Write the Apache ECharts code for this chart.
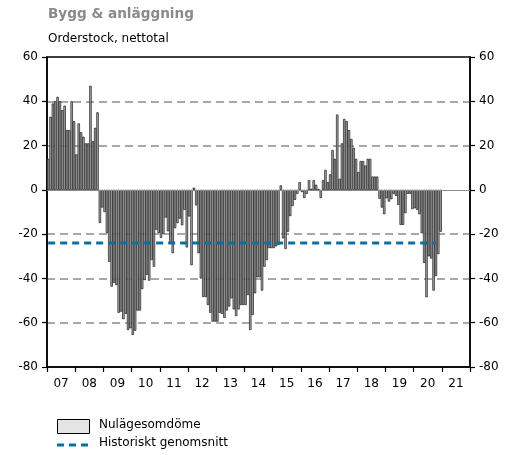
<!DOCTYPE html>
<html>
<head>
<meta charset="utf-8">
<script src="https://cdn.jsdelivr.net/npm/echarts@6/dist/echarts.min.js"></script>
<style>
html,body{margin:0;padding:0;background:#fff;}
#chart{width:522px;height:455px;}
</style>
</head>
<body>
<div id="chart"></div>
<script>
// Year labels on the x axis
const yearLabels = ['07','08','09','10','11','12','13','14','15','16','17','18','19','20','21'];
const monthNames = ['01','02','03','04','05','06','07','08','09','10','11','12'];
// Orderstock, nettotal (Nulägesomdöme), monthly values per year
const v2007 = [14, 33, 39, 40, 42, 40, 36, 38, 27, 27, 40, 31];
const v2008 = [16, 30, 26, 24, 21, 21, 47, 22, 28, 35, -15, -8];
const v2009 = [-10, -19.5, -32.5, -43.7, -42, -43, -55.5, -55, -58.4, -56, -63.3, -62.5];
const v2010 = [-65.5, -63.6, -54.5, -54.5, -44.8, -40.7, -38.4, -41, -31.7, -34.7, -18, -19.5];
const v2011 = [-21.7, -20, -12.5, -18.7, -24, -28.6, -17.3, -15, -13, -16, -9, -26];
const v2012 = [-12, -34, 1, -7, -28.6, -40, -48.4, -48.4, -52, -55.5, -59.5, -59.5];
const v2013 = [-59.5, -55.5, -56, -57.8, -54.5, -52.7, -49, -54, -57, -54, -52, -52];
const v2014 = [-52, -47.5, -63.3, -56.5, -46.7, -39.5, -39.5, -45.5, -34.7, -31.7, -26.3, -26.3];
const v2015 = [-26.3, -25.5, -24.8, 2, -21.9, -26.7, -18.9, -11.8, -7.3, -4.5, -1.8, 3.5];
const v2016 = [-1, -3.7, -1.8, 4.4, 0.5, 4.4, 2.3, 0.4, -3.7, 4.4, 9, 3.5];
const v2017 = [7, 18, 14, 34, 5, 21, 32, 31, 27, 23, 19, 14];
const v2018 = [8, 13, 13, 11, 14, 14, 6, 6, 6, -4, -8, -11];
const v2019 = [-3.8, -5.3, -4.2, -1.8, -2.7, -6.8, -15.8, -15.8, -10.5, -1.8, -1.8, -8.7];
const v2020 = [-8.3, -9, -11, -19.6, -33, -48.5, -30, -31, -45.5, -38.9, -29, -18.9];
const v2021 = [];
// Historiskt genomsnitt
const historicAverage = -24;
const averageMonths = 166; // months covered by the average line
// Y axis ticks
const yMin = -80, yMax = 60, yStep = 20;

const yearly = [v2007,v2008,v2009,v2010,v2011,v2012,v2013,v2014,v2015,v2016,v2017,v2018,v2019,v2020,v2021];
const categories = [];
const barData = [];
yearLabels.forEach((y, yi) => {
  monthNames.forEach((m, mi) => {
    categories.push('20' + y + '-' + m);
    const v = yearly[yi][mi];
    barData.push(v === undefined ? null : v);
  });
});
const avgData = categories.map((c, i) => i < averageMonths ? historicAverage : null);

const FONT = 'DejaVu Sans, Verdana, sans-serif';
const chart = echarts.init(document.getElementById('chart'), null, {renderer: 'canvas'});
const gridColors = ['rgba(0,0,0,0)', '#8c8c8c', '#8c8c8c', '#8c8c8c', 'rgba(0,0,0,0)', '#8c8c8c', '#8c8c8c', 'rgba(0,0,0,0)'];

chart.setOption({
  animation: false,
  backgroundColor: '#fff',
  grid: {left: 47, right: 52, top: 57, bottom: 88, show: true, borderColor: '#000', borderWidth: 1.5, backgroundColor: 'transparent'},
  xAxis: [{
    type: 'category', data: categories, boundaryGap: true,
    axisLine: {show: true, onZero: false, lineStyle: {color: '#000', width: 1.5}},
    axisTick: {show: true, interval: 11, length: 5, lineStyle: {color: '#000', width: 1.2}},
    axisLabel: {show: false}, splitLine: {show: false}
  }, {
    type: 'category', data: yearLabels, position: 'bottom', boundaryGap: true,
    axisLine: {show: false, onZero: false}, axisTick: {show: false}, splitLine: {show: false},
    axisLabel: {show: true, interval: 0, margin: 11, color: '#000', fontSize: 12, fontFamily: FONT}
  }],
  yAxis: [{
    type: 'value', min: yMin, max: yMax, interval: yStep, position: 'left',
    axisLine: {show: true, lineStyle: {color: '#000', width: 1.5}},
    axisTick: {show: true, length: 5, lineStyle: {color: '#000', width: 1.2}},
    axisLabel: {color: '#000', fontSize: 12, fontFamily: FONT, margin: 9},
    splitLine: {show: true, lineStyle: {color: gridColors, type: [8, 5], width: 1.5}}
  }, {
    type: 'value', min: yMin, max: yMax, interval: yStep, position: 'right',
    axisLine: {show: true, lineStyle: {color: '#000', width: 1.5}},
    axisTick: {show: true, length: 5, lineStyle: {color: '#000', width: 1.2}},
    axisLabel: {color: '#000', fontSize: 12, fontFamily: FONT, margin: 9},
    splitLine: {show: false}
  }],
  series: [{
    name: 'Nulägesomdöme', type: 'bar', data: barData, xAxisIndex: 0, yAxisIndex: 0,
    barCategoryGap: '0%', barGap: '0%',
    itemStyle: {color: '#a8a8a8', borderColor: '#000', borderWidth: 0.6},
    markLine: {silent: true, symbol: 'none', label: {show: false},
      lineStyle: {color: '#8c8c8c', type: 'solid', width: 1.2},
      data: [{yAxis: 0}]},
    z: 2
  }, {
    name: 'Historiskt genomsnitt', type: 'line', data: avgData, xAxisIndex: 0, yAxisIndex: 0,
    symbol: 'none', connectNulls: false,
    lineStyle: {color: '#0b6ea8', width: 3, type: [7, 5]},
    z: 3
  }],
  graphic: [
    {type: 'text', left: 48, top: 7, style: {text: 'Bygg & anläggning', fill: '#8a8a8a', font: 'bold 13.6px ' + FONT}},
    {type: 'text', left: 48, top: 33, style: {text: 'Orderstock, nettotal', fill: '#000', font: '12px ' + FONT}},
    {type: 'rect', shape: {x: 57.5, y: 419.5, width: 32, height: 14}, style: {fill: '#e4e4e4', stroke: '#000', lineWidth: 1}},
    {type: 'text', left: 99, top: 419, style: {text: 'Nulägesomdöme', fill: '#000', font: '12px ' + FONT}},
    {type: 'line', shape: {x1: 57, y1: 445, x2: 90, y2: 445}, style: {stroke: '#0b6ea8', lineWidth: 3, lineDash: [7, 5]}},
    {type: 'text', left: 99, top: 437, style: {text: 'Historiskt genomsnitt', fill: '#000', font: '12px ' + FONT}}
  ]
});
</script>
</body>
</html>
